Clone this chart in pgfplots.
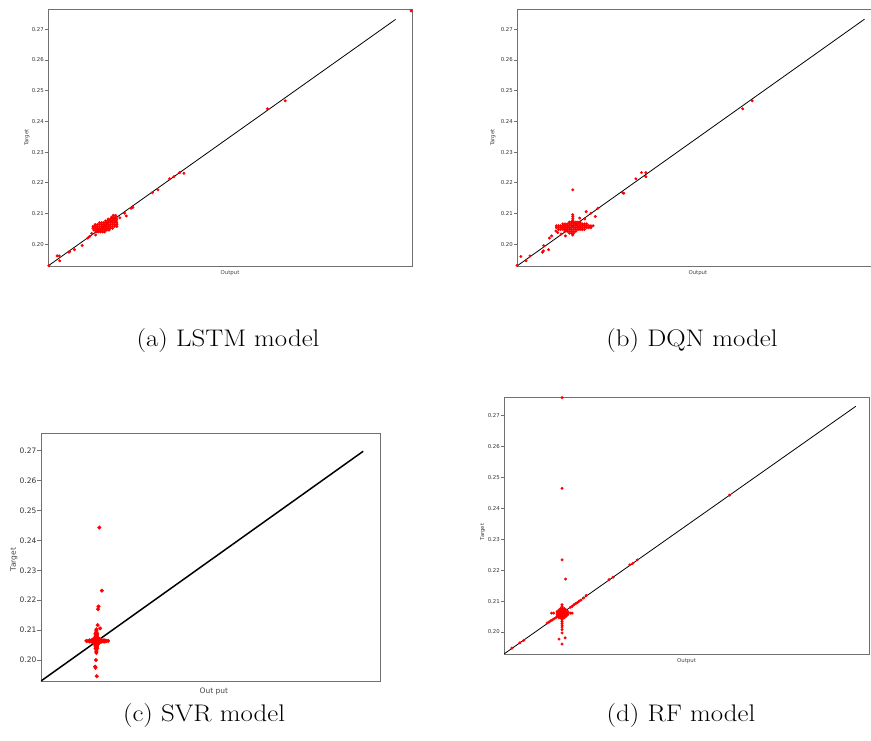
\documentclass[border=0pt]{standalone}
\usepackage{fontspec}
\usepackage{pgfplots}
\pgfplotsset{compat=1.18}
\newfontfamily\dejavu{DejaVu Sans}
\definecolor{framegray}{HTML}{707070}
\definecolor{ticktext}{HTML}{333333}
\definecolor{labeltext}{HTML}{444444}

\pgfplotsset{
  panel/.style={
    scale only axis, anchor=north west,
    axis line style={draw=framegray, line width=0.9pt},
    xtick=\empty, ytick pos=left, tick align=outside,
    ytick={0.20,0.21,0.22,0.23,0.24,0.25,0.26,0.27},
    yticklabels={0.20,0.21,0.22,0.23,0.24,0.25,0.26,0.27},
    major tick length=3pt,
    tick style={draw=framegray, line width=0.6pt},
    yticklabel style={font=\dejavu\fontsize{5.4}{6}\selectfont, text=ticktext, inner sep=1pt},
    label style={font=\dejavu\fontsize{5.4}{6}\selectfont, text=labeltext, anchor=center},
  },
  pts/.style={only marks, mark=*, mark size=1.3pt, color=red, mark options={draw=none, fill=red}},
  diag/.style={black, line width=0.8pt, no marks},
}

\begin{document}
\begin{tikzpicture}
\path[use as bounding box] (0pt,0pt) rectangle (871pt,740pt);

% (a) LSTM
\begin{axis}[panel, at={(48pt,731pt)}, width=364pt, height=257pt,
  xmin=0.1929, xmax=0.2770, ymin=0.1929, ymax=0.2766,
  ylabel={Target}, xlabel={Output},
  ylabel style={at={(axis description cs:-0.058,0.5)}},
  xlabel style={at={(axis description cs:0.5,-0.027)}}]
\addplot[diag] coordinates {(0.1929,0.1929) (0.2732,0.2732)};
\addplot[pts] coordinates {
(0.1931,0.1930) (0.1950,0.1962) (0.1955,0.1962) (0.1956,0.1946) (0.1977,0.1974) (0.1979,0.1976)
(0.1990,0.1982) (0.2008,0.1996) (0.2021,0.2020) (0.2025,0.2025) (0.2030,0.2035) (0.2039,0.2030)
(0.2095,0.2086) (0.2106,0.2101) (0.2110,0.2092) (0.2121,0.2117) (0.2125,0.2120) (0.2170,0.2168)
(0.2183,0.2177) (0.2210,0.2213) (0.2220,0.2220) (0.2233,0.2233) (0.2243,0.2231) (0.2436,0.2441)
(0.2477,0.2467) (0.2768,0.2760)
(0.2040,0.2040) (0.2045,0.2040) (0.2050,0.2040) (0.2055,0.2040) (0.2060,0.2040)
(0.2035,0.2046) (0.2040,0.2046) (0.2045,0.2046) (0.2050,0.2046) (0.2055,0.2046) (0.2060,0.2046) (0.2065,0.2046) (0.2070,0.2046)
(0.2033,0.2052) (0.2038,0.2052) (0.2043,0.2052) (0.2048,0.2052) (0.2053,0.2052) (0.2058,0.2052) (0.2063,0.2052) (0.2068,0.2052) (0.2073,0.2052) (0.2078,0.2052)
(0.2033,0.2058) (0.2038,0.2058) (0.2043,0.2058) (0.2048,0.2058) (0.2053,0.2058) (0.2058,0.2058) (0.2063,0.2058) (0.2068,0.2058) (0.2073,0.2058) (0.2078,0.2058) (0.2083,0.2058) (0.2088,0.2058)
(0.2038,0.2064) (0.2043,0.2064) (0.2048,0.2064) (0.2053,0.2064) (0.2058,0.2064) (0.2063,0.2064) (0.2068,0.2064) (0.2073,0.2064) (0.2078,0.2064) (0.2083,0.2064) (0.2088,0.2064)
(0.2048,0.2070) (0.2053,0.2070) (0.2058,0.2070) (0.2063,0.2070) (0.2068,0.2070) (0.2073,0.2070) (0.2078,0.2070) (0.2083,0.2070) (0.2088,0.2070)
(0.2062,0.2076) (0.2067,0.2076) (0.2072,0.2076) (0.2077,0.2076) (0.2082,0.2076) (0.2087,0.2076)
(0.2068,0.2082) (0.2073,0.2082) (0.2078,0.2082) (0.2083,0.2082) (0.2088,0.2082)
(0.2076,0.2088) (0.2081,0.2088) (0.2086,0.2088)
(0.2080,0.2094) (0.2085,0.2094)
};
\end{axis}

% (b) DQN
\begin{axis}[panel, at={(517pt,731pt)}, width=364pt, height=257pt,
  xmin=0.1929, xmax=0.2771, ymin=0.1929, ymax=0.2766,
  ylabel={Target}, xlabel={Output},
  ylabel style={at={(axis description cs:-0.066,0.5)}},
  xlabel style={at={(axis description cs:0.497,-0.027)}}]
\addplot[diag] coordinates {(0.1929,0.1929) (0.2733,0.2733)};
\addplot[pts] coordinates {
(0.1929,0.1931) (0.1938,0.1960) (0.1950,0.1946) (0.1959,0.1962) (0.1988,0.1974) (0.1990,0.1978)
(0.1991,0.1995) (0.2002,0.1982) (0.2004,0.2020) (0.2009,0.2027) (0.2019,0.2043) (0.2023,0.2038)
(0.2031,0.2033) (0.2041,0.2027) (0.2058,0.2177) (0.2089,0.2106) (0.2100,0.2101) (0.2110,0.2090)
(0.2116,0.2117) (0.2173,0.2168) (0.2176,0.2166) (0.2204,0.2213) (0.2217,0.2233) (0.2227,0.2233)
(0.2227,0.2220) (0.2451,0.2441) (0.2473,0.2467)
(0.2050,0.2036) (0.2055,0.2036) (0.2060,0.2036)
(0.2040,0.2042) (0.2045,0.2042) (0.2050,0.2042) (0.2055,0.2042) (0.2060,0.2042) (0.2065,0.2042)
(0.2025,0.2048) (0.2030,0.2048) (0.2035,0.2048) (0.2040,0.2048) (0.2045,0.2048) (0.2050,0.2048) (0.2055,0.2048) (0.2060,0.2048) (0.2065,0.2048) (0.2070,0.2048) (0.2075,0.2048) (0.2080,0.2048) (0.2085,0.2048)
(0.2020,0.2054) (0.2025,0.2054) (0.2030,0.2054) (0.2035,0.2054) (0.2040,0.2054) (0.2045,0.2054) (0.2050,0.2054) (0.2055,0.2054) (0.2060,0.2054) (0.2065,0.2054) (0.2070,0.2054) (0.2075,0.2054) (0.2080,0.2054) (0.2085,0.2054) (0.2090,0.2054) (0.2095,0.2054) (0.2100,0.2054)
(0.2020,0.2060) (0.2025,0.2060) (0.2030,0.2060) (0.2035,0.2060) (0.2040,0.2060) (0.2045,0.2060) (0.2050,0.2060) (0.2055,0.2060) (0.2060,0.2060) (0.2065,0.2060) (0.2070,0.2060) (0.2075,0.2060) (0.2080,0.2060) (0.2085,0.2060) (0.2090,0.2060) (0.2095,0.2060) (0.2100,0.2060) (0.2105,0.2060)
(0.2035,0.2066) (0.2040,0.2066) (0.2045,0.2066) (0.2050,0.2066) (0.2055,0.2066) (0.2060,0.2066) (0.2065,0.2066) (0.2070,0.2066) (0.2075,0.2066) (0.2080,0.2066) (0.2085,0.2066) (0.2090,0.2066)
(0.2050,0.2072) (0.2055,0.2072) (0.2060,0.2072) (0.2065,0.2072) (0.2070,0.2072) (0.2075,0.2072)
(0.2058,0.2030) (0.2058,0.2078) (0.2058,0.2084) (0.2058,0.2090) (0.2058,0.2096)
(0.2074,0.2085) (0.2086,0.2082)
};
\end{axis}

% (c) SVR
\begin{axis}[panel, at={(41pt,307pt)}, width=339pt, height=248pt,
  xmin=0.1930, xmax=0.2738, ymin=0.1930, ymax=0.2759,
  major tick length=3.5pt,
  yticklabel style={font=\dejavu\fontsize{7.5}{9}\selectfont},
  label style={font=\dejavu\fontsize{7.5}{9}\selectfont},
  ylabel={Target}, xlabel={Out put},
  ylabel style={at={(axis description cs:-0.08,0.49)}},
  xlabel style={at={(axis description cs:0.51,-0.043)}}]
\addplot[diag, line width=1.5pt] coordinates {(0.1930,0.1930) (0.2698,0.2698)};
\addplot[pts, mark size=1.8pt] coordinates {
(0.2069,0.2443) (0.2075,0.2232) (0.2067,0.2179) (0.2066,0.2170) (0.2065,0.2117) (0.2071,0.2106)
(0.2061,0.2000) (0.2059,0.1978) (0.2060,0.1974) (0.2063,0.1946) (0.2065,0.2760)
(0.2058,0.2054) (0.2062,0.2054) (0.2066,0.2054)
(0.2054,0.2059) (0.2058,0.2059) (0.2062,0.2059) (0.2066,0.2059) (0.2070,0.2059)
(0.2054,0.2064) (0.2058,0.2064) (0.2062,0.2064) (0.2066,0.2064) (0.2070,0.2064)
(0.2054,0.2069) (0.2058,0.2069) (0.2062,0.2069) (0.2066,0.2069) (0.2070,0.2069)
(0.2058,0.2074) (0.2062,0.2074) (0.2066,0.2074)
(0.2050,0.2062) (0.2050,0.2066) (0.2046,0.2062) (0.2046,0.2066) (0.2042,0.2064) (0.2038,0.2064)
(0.2074,0.2062) (0.2074,0.2066) (0.2078,0.2062) (0.2078,0.2066) (0.2082,0.2062) (0.2082,0.2066) (0.2086,0.2064) (0.2090,0.2064)
(0.2060,0.2079) (0.2064,0.2079) (0.2060,0.2084) (0.2064,0.2084) (0.2060,0.2089) (0.2064,0.2089) (0.2062,0.2094) (0.2062,0.2099) (0.2062,0.2103)
(0.2060,0.2049) (0.2064,0.2049) (0.2060,0.2044) (0.2064,0.2044) (0.2060,0.2039) (0.2064,0.2039) (0.2062,0.2034) (0.2062,0.2029) (0.2062,0.2024)
};
\end{axis}

% (d) RF
\begin{axis}[panel, at={(504pt,343pt)}, width=365pt, height=257pt,
  xmin=0.1929, xmax=0.2759, ymin=0.1929, ymax=0.2759,
  ylabel={Target}, xlabel={Output},
  ylabel style={at={(axis description cs:-0.058,0.475)}},
  xlabel style={at={(axis description cs:0.50,-0.027)}}]
\addplot[diag] coordinates {(0.1929,0.1929) (0.2729,0.2729)};
\addplot[pts] coordinates {
(0.2061,0.2757) (0.2061,0.2464) (0.2061,0.2233) (0.2069,0.2171) (0.1947,0.1948) (0.1965,0.1965)
(0.1974,0.1973) (0.2168,0.2169) (0.2177,0.2177) (0.2215,0.2217) (0.2222,0.2222) (0.2232,0.2233)
(0.2442,0.2442) (0.2054,0.1977) (0.2068,0.1981) (0.2061,0.1961)
(0.2061,0.2040) (0.2061,0.2034) (0.2061,0.2028) (0.2061,0.2022) (0.2061,0.2016) (0.2061,0.2008) (0.2061,0.1997)
(0.2061,0.2082) (0.2061,0.2088) (0.2037,0.2061) (0.2042,0.2061) (0.2080,0.2061) (0.2084,0.2061)
(0.2027,0.2029) (0.2031,0.2032) (0.2035,0.2036) (0.2039,0.2039) (0.2043,0.2043) (0.2047,0.2046)
(0.2080,0.2080) (0.2084,0.2083) (0.2088,0.2088) (0.2092,0.2092) (0.2096,0.2095) (0.2100,0.2100)
(0.2104,0.2103) (0.2110,0.2110) (0.2116,0.2118)
(0.2054,0.2046) (0.2058,0.2046) (0.2062,0.2046) (0.2066,0.2046)
(0.2050,0.2051) (0.2054,0.2051) (0.2058,0.2051) (0.2062,0.2051) (0.2066,0.2051) (0.2070,0.2051)
(0.2050,0.2056) (0.2054,0.2056) (0.2058,0.2056) (0.2062,0.2056) (0.2066,0.2056) (0.2070,0.2056) (0.2074,0.2056)
(0.2050,0.2061) (0.2054,0.2061) (0.2058,0.2061) (0.2062,0.2061) (0.2066,0.2061) (0.2070,0.2061) (0.2074,0.2061)
(0.2050,0.2066) (0.2054,0.2066) (0.2058,0.2066) (0.2062,0.2066) (0.2066,0.2066) (0.2070,0.2066) (0.2074,0.2066)
(0.2054,0.2071) (0.2058,0.2071) (0.2062,0.2071) (0.2066,0.2071) (0.2070,0.2071)
(0.2058,0.2076) (0.2062,0.2076) (0.2066,0.2076)
};
\end{axis}

% captions
\begin{scope}[every node/.style={anchor=base, xscale=1.12, font=\fontsize{24}{28}\selectfont}]
\node at (228pt,393pt) {(a) LSTM model};
\node at (692pt,393pt) {(b) DQN model};
\node at (204pt,19pt) {(c) SVR model};
\node at (681pt,19pt) {(d) RF model};
\end{scope}
\end{tikzpicture}
\end{document}
